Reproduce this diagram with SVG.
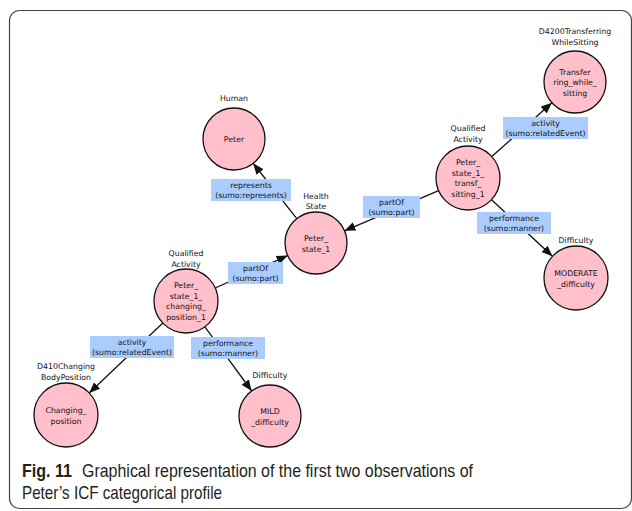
<svg xmlns="http://www.w3.org/2000/svg" width="632" height="511" viewBox="0 0 632 511">
<style>
.node{fill:#ffc0cb;stroke:#111;stroke-width:1.3}
.t{font-family:"DejaVu Sans",sans-serif;font-size:7.8px;fill:#111;text-anchor:middle}
.edge{stroke:#111;stroke-width:1.3;fill:none}
.lb{fill:#aaccff}
.cap{font-family:"Liberation Sans Narrow","Liberation Sans",sans-serif;font-size:19px;fill:#231f20}
</style>
<defs>
<marker id="ah" markerUnits="userSpaceOnUse" markerWidth="12" markerHeight="10" refX="11" refY="4.5" orient="auto">
<path d="M0,0 L11,4.5 L0,9 z" fill="#111"/>
</marker>
</defs>
<rect x="9.5" y="10.5" width="622" height="498" rx="10" fill="#fff" stroke="#444" stroke-width="1.2"/>
<g id="connectors">
<line class="edge" x1="296.8" y1="218.6" x2="253.2" y2="163.4" marker-end="url(#ah)"/>
<line class="edge" x1="438.6" y1="190.6" x2="344.5" y2="230.8" marker-end="url(#ah)"/>
<line class="edge" x1="491.8" y1="156.6" x2="551.9" y2="102.7" marker-end="url(#ah)"/>
<line class="edge" x1="491.5" y1="199.7" x2="552.5" y2="256.3" marker-end="url(#ah)"/>
<line class="edge" x1="215.2" y1="288.0" x2="287.7" y2="255.6" marker-end="url(#ah)"/>
<line class="edge" x1="162.8" y1="323.0" x2="89.2" y2="393.0" marker-end="url(#ah)"/>
<line class="edge" x1="204.9" y1="326.8" x2="251.7" y2="391.0" marker-end="url(#ah)"/>
<g id="lbl-represents"><rect class="lb" x="211" y="179" width="80" height="22"/><text class="t" x="251" y="188">represents</text><text class="t" x="251" y="198">(sumo:represents)</text></g>
<g id="lbl-partof1"><rect class="lb" x="363" y="196" width="57" height="22"/><text class="t" x="391.5" y="205">partOf</text><text class="t" x="391.5" y="215">(sumo:part)</text></g>
<g id="lbl-activity1"><rect class="lb" x="503" y="117" width="85" height="22"/><text class="t" x="545.5" y="126">activity</text><text class="t" x="545.5" y="136">(sumo:relatedEvent)</text></g>
<g id="lbl-performance1"><rect class="lb" x="477" y="212" width="74" height="22"/><text class="t" x="514" y="221">performance</text><text class="t" x="514" y="231">(sumo:manner)</text></g>
<g id="lbl-partof2"><rect class="lb" x="228" y="262" width="55" height="22"/><text class="t" x="255.5" y="271">partOf</text><text class="t" x="255.5" y="281">(sumo:part)</text></g>
<g id="lbl-activity2"><rect class="lb" x="90" y="336" width="84" height="22"/><text class="t" x="132" y="345">activity</text><text class="t" x="132" y="355">(sumo:relatedEvent)</text></g>
<g id="lbl-performance2"><rect class="lb" x="191" y="337" width="74" height="22"/><text class="t" x="228" y="346">performance</text><text class="t" x="228" y="356">(sumo:manner)</text></g>
</g>
<g id="peter"><text class="t" x="234" y="101">Human</text><circle class="node" cx="234" cy="139" r="31"/><text class="t" x="234" y="142">Peter</text></g>
<g id="peter_state_1"><text class="t" x="316" y="199">Health</text><text class="t" x="316" y="209">State</text><circle class="node" cx="316" cy="243" r="31"/><text class="t" x="316" y="241">Peter_</text><text class="t" x="316" y="251.5">state_1</text></g>
<g id="transf_sitting"><text class="t" x="468" y="131">Qualified</text><text class="t" x="468" y="141.5">Activity</text><circle class="node" cx="468" cy="178" r="32"/><text class="t" x="468" y="165">Peter_</text><text class="t" x="468" y="175.5">state_1_</text><text class="t" x="468" y="186">transf_</text><text class="t" x="468" y="196.5">sitting_1</text></g>
<g id="transferring"><text class="t" x="575" y="34">D4200Transferring</text><text class="t" x="575" y="44.5">WhileSitting</text><circle class="node" cx="575" cy="82" r="31"/><text class="t" x="575" y="74.5">Transfer</text><text class="t" x="575" y="85">ring_while_</text><text class="t" x="575" y="95.5">sitting</text></g>
<g id="moderate"><text class="t" x="576" y="243">Difficulty</text><circle class="node" cx="576" cy="278" r="32"/><text class="t" x="576" y="276">MODERATE</text><text class="t" x="576" y="286.5">_difficulty</text></g>
<g id="changing_position_1"><text class="t" x="186" y="256">Qualified</text><text class="t" x="186" y="266.5">Activity</text><circle class="node" cx="186" cy="301" r="32"/><text class="t" x="186" y="288">Peter_</text><text class="t" x="186" y="298.5">state_1_</text><text class="t" x="186" y="309">changing_</text><text class="t" x="186" y="319.5">position_1</text></g>
<g id="changing_position"><text class="t" x="66" y="369">D410Changing</text><text class="t" x="66" y="379.5">BodyPosition</text><circle class="node" cx="66" cy="415" r="32"/><text class="t" x="66" y="413">Changing_</text><text class="t" x="66" y="423.5">position</text></g>
<g id="mild"><text class="t" x="270" y="378">Difficulty</text><circle class="node" cx="270" cy="416" r="31"/><text class="t" x="270" y="414">MILD</text><text class="t" x="270" y="424.5">_difficulty</text></g>
<g id="caption">
<text class="cap" x="22" y="477"><tspan font-weight="bold" textLength="50" lengthAdjust="spacingAndGlyphs">Fig. 11</tspan><tspan x="82" textLength="391" lengthAdjust="spacingAndGlyphs">Graphical representation of the first two observations of</tspan></text>
<text class="cap" x="22" y="499" textLength="200" lengthAdjust="spacingAndGlyphs">Peter’s ICF categorical profile</text>
</g>
</svg>
